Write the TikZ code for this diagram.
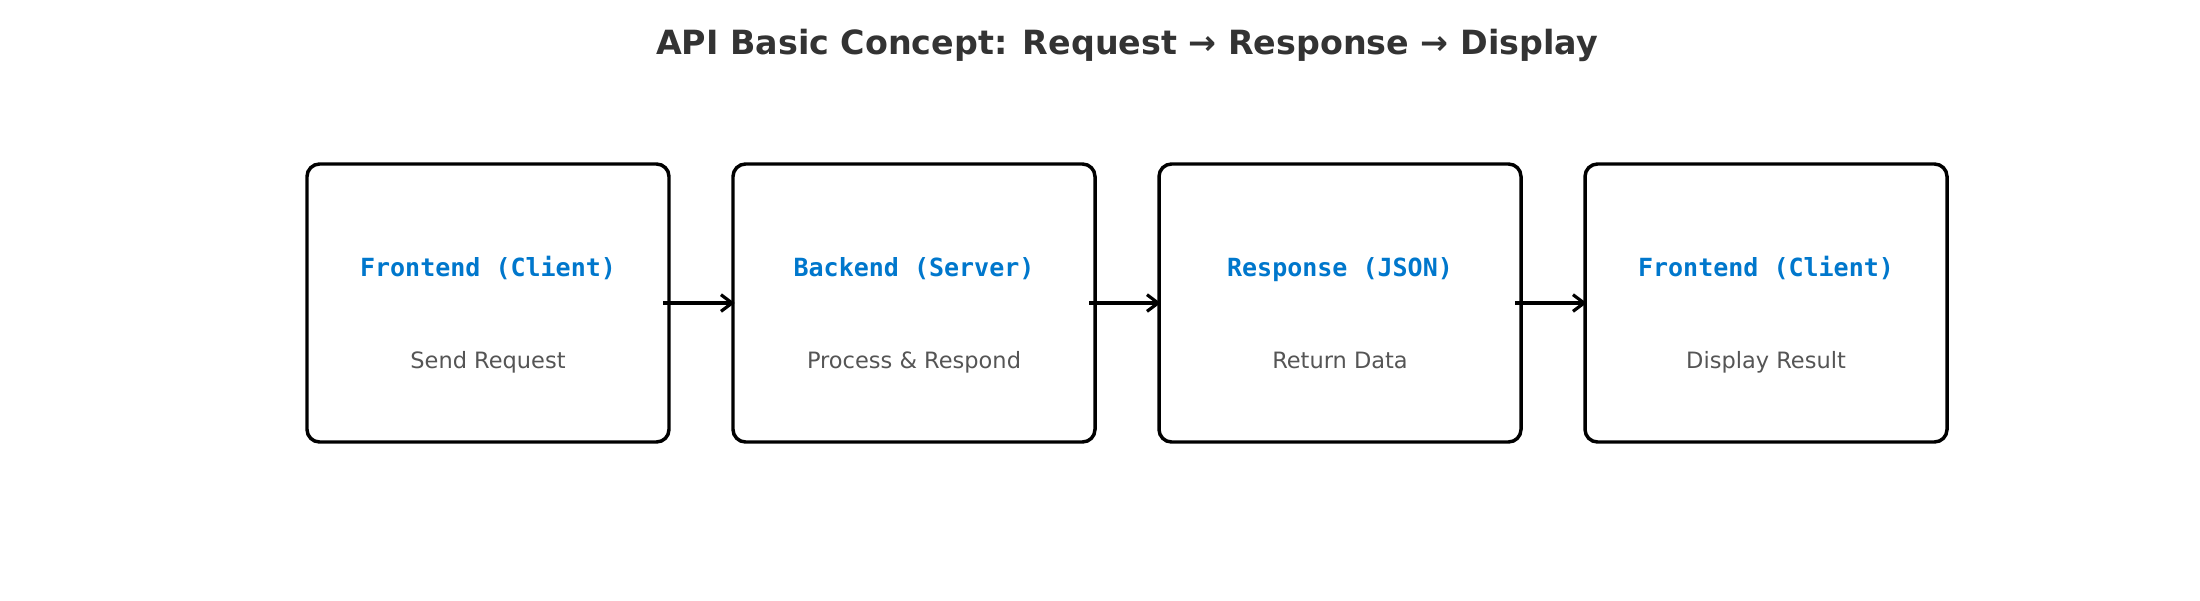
\documentclass[tikz,border=0pt]{standalone}
\usepackage{fontspec}
\setmainfont{DejaVu Sans}
\newfontfamily\monob{DejaVu Sans Mono}
\usetikzlibrary{arrows.meta}
\definecolor{titlec}{HTML}{333333}
\definecolor{bluec}{HTML}{0077CC}
\definecolor{subc}{HTML}{555555}
\tikzset{
  box/.style={draw=black, line width=2.5pt, rounded corners=9pt, minimum width=362*0.72pt, minimum height=278*0.72pt, inner sep=0pt},
  head/.style={text=bluec, font=\monob\bfseries\fontsize{18pt}{21pt}\selectfont, text height=0.76em, text depth=0.24em, inner sep=0pt},
  sub/.style={text=subc, font=\fontsize{16.2pt}{19pt}\selectfont, text height=0.76em, text depth=0.24em, inner sep=0pt},
  conn/.style={line width=2.3pt, -{Straight Barb[length=8pt,width=12pt,line width=2.3pt]}},
}
\begin{document}
\begin{tikzpicture}[x=0.72pt,y=-0.72pt]
\useasboundingbox (0,0) rectangle (2200,600);
\node[text=titlec, font=\bfseries\fontsize{24pt}{28pt}\selectfont] (title) at (1127,45) {API Basic Concept: Request → Response → Display};
\foreach \i/\cx/\h/\s in {1/488/Frontend (Client)/Send Request, 2/914/Backend (Server)/Process \& Respond, 3/1340/Response (JSON)/Return Data, 4/1766/Frontend (Client)/Display Result}{
  \node[box] (b\i) at (\cx,303) {};
  \node[head] (h\i) at (\cx,272.5) {\h};
  \node[sub] (s\i) at (\cx,365) {\s};
}
\draw[conn] ([xshift=-5.5pt]b1.east) -- ([xshift=2.5pt]b2.west);
\draw[conn] ([xshift=-5.5pt]b2.east) -- ([xshift=2.5pt]b3.west);
\draw[conn] ([xshift=-5.5pt]b3.east) -- ([xshift=2.5pt]b4.west);
\end{tikzpicture}
\end{document}
